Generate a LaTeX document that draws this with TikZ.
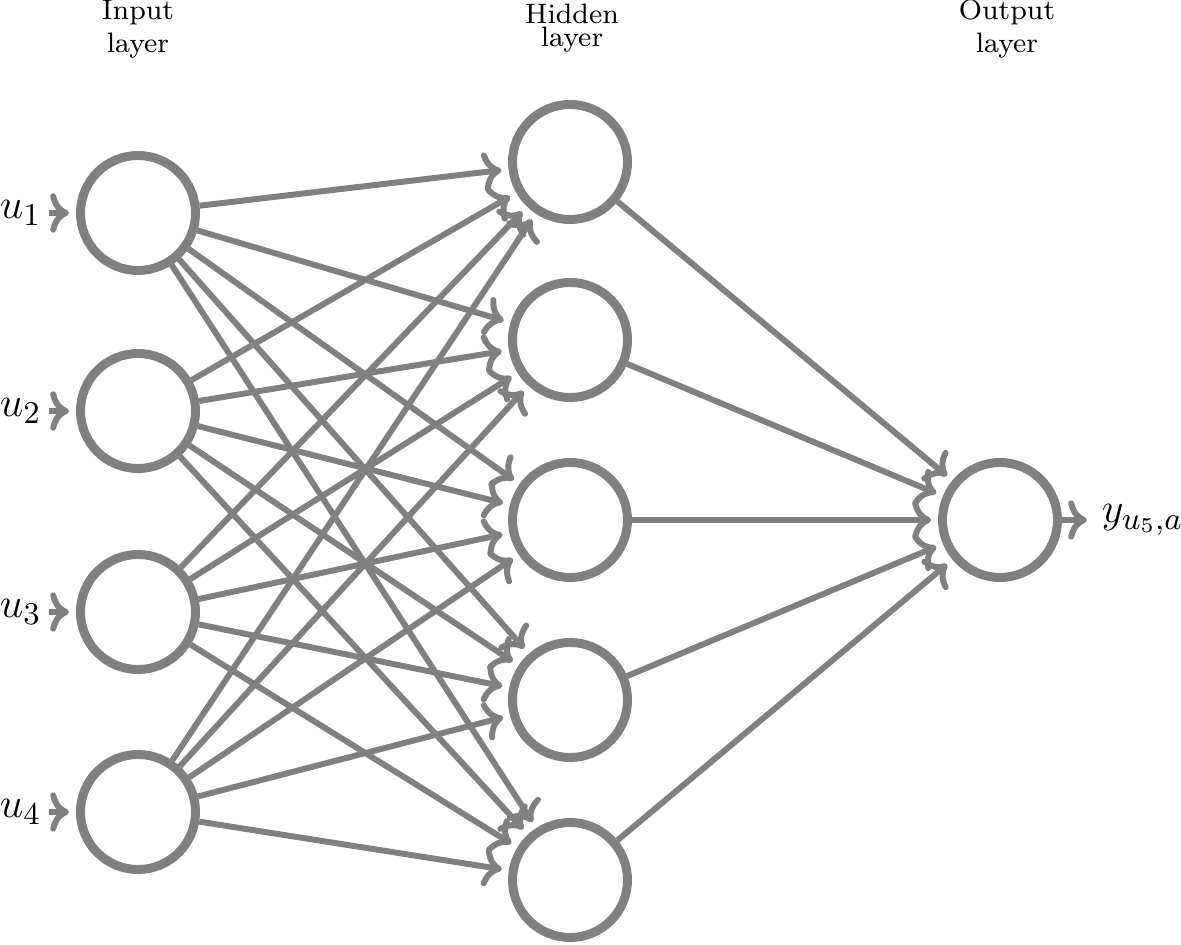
\documentclass[tikz,border=0pt]{standalone}
\usepackage{amsmath}
\usetikzlibrary{arrows.meta,positioning}
\tikzset{
  neuron/.style={circle,draw=gray,line width=2.55pt,minimum size=1.15cm,inner sep=0pt},
  synapse/.style={->,draw=gray,line width=1.7pt,shorten >=2pt},
  layerlabel/.style={align=center,font=\footnotesize,inner sep=0pt},
  signal/.style={font=\fontsize{12.5}{15}\selectfont,inner sep=2pt},
}

\begin{document}
\begin{tikzpicture}[>=To]
  \useasboundingbox (0,0) rectangle (11.81,9.44);
  % layer titles
  \node[layerlabel] (title-in) at (1.38,9.15) {Input\\layer};
  \node[layerlabel] (title-hid) at (5.72,9.16) {Hidden\\[-3pt]layer};
  \node[layerlabel] (title-out) at (10.07,9.15) {Output\\layer};
  % input layer
  \foreach \i/\y in {1/7.31,2/5.33,3/3.32,4/1.32}{
    \node[neuron] (I-\i) at (1.38,\y) {};
    \node[signal,anchor=east] (u-\i) at (0.49,\y) {$u_\i$};
    \draw[synapse] (u-\i) -- (I-\i);
  }
  % hidden layer
  \foreach \j/\y in {1/7.82,2/6.04,3/4.24,4/2.44,5/0.64}{
    \node[neuron] (H-\j) at (5.70,\y) {};
  }
  % output layer
  \node[neuron] (O) at (10.00,4.24) {};
  \node[signal,anchor=west] (y) at (10.94,4.24) {$y_{u_5,a}$};
  \draw[synapse] (O) -- (y);
  % connections
  \foreach \i in {1,...,4}
    \foreach \j in {1,...,5}
      \draw[synapse] (I-\i) -- (H-\j);
  \foreach \j in {1,...,5}
    \draw[synapse] (H-\j) -- (O);
\end{tikzpicture}
\end{document}
